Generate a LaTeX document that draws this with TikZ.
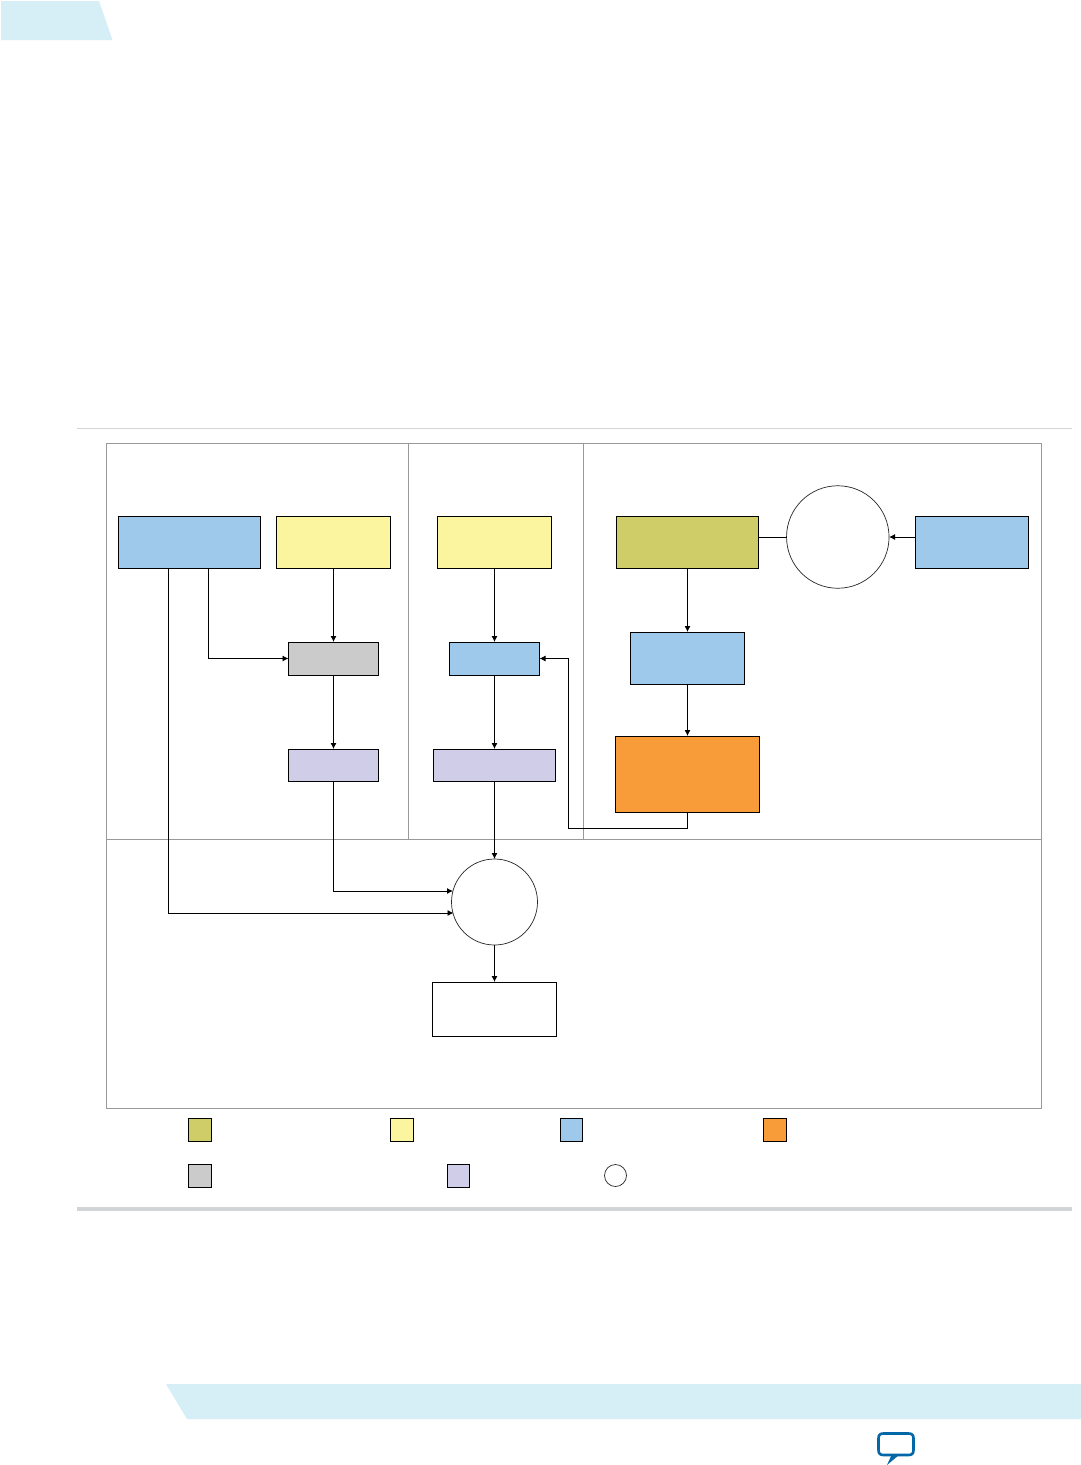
\documentclass[tikz,border=0pt]{standalone}
\usetikzlibrary{arrows.meta}
\definecolor{tabblue}{HTML}{D6EEF6}
\definecolor{olivebox}{HTML}{CFCD67}
\definecolor{yellowbox}{HTML}{FBF5A0}
\definecolor{bluebox}{HTML}{9FC9EB}
\definecolor{orangebox}{HTML}{F89B39}
\definecolor{graybox}{HTML}{CBCBCB}
\definecolor{lavbox}{HTML}{CFCDE8}
\definecolor{framegray}{HTML}{999999}
\definecolor{rulegray}{HTML}{D3D4D5}
\definecolor{bubble}{HTML}{0467A8}
\tikzset{
  x=1pt,y=-1pt,
  pbox/.style={draw=black,line width=0.9pt,inner sep=0pt,outer sep=0pt,rectangle},
  pcirc/.style={draw=black!85,line width=0.7pt,inner sep=0pt,outer sep=0pt,circle},
  conn/.style={draw=black,line width=0.9pt},
  arr/.style={conn,-{Latex[length=6pt,width=6pt]}},
  frameline/.style={draw=framegray,line width=1pt},
  sz/.style n args={2}{minimum width=#1pt,minimum height=#2pt},
}
\begin{document}
\begin{tikzpicture}
\useasboundingbox (0,0) rectangle (1081,1465);
\fill[white] (0,0) rectangle (1081,1465);
% page furniture
\fill[tabblue] (1,1) -- (99,1) -- (112.5,40) -- (1,40) -- cycle;
\fill[tabblue] (166,1384) -- (1081,1384) -- (1081,1419) -- (187,1419) -- cycle;
\draw[rulegray,line width=1pt] (77,428.5) -- (1072,428.5);
\draw[rulegray,line width=4pt] (77,1209) -- (1072,1209);
% frame
\draw[frameline] (106.5,443.5) rectangle (1041.5,1108);
\draw[frameline] (408.5,443.5) -- (408.5,839.5);
\draw[frameline] (583.5,443.5) -- (583.5,839.5);
\draw[frameline] (106.5,839.5) -- (1041.5,839.5);
% boxes
\node[pbox,fill=bluebox,sz={142}{52}] (a) at (189.5,542.5) {};
\node[pbox,fill=yellowbox,sz={114}{52}] (b) at (333.5,542.5) {};
\node[pbox,fill=yellowbox,sz={114}{52}] (c) at (494.5,542.5) {};
\node[pbox,fill=olivebox,sz={142}{52}] (d) at (687.5,542.5) {};
\node[pcirc,fill=white,minimum size=102.5pt] (e) at (837.8,537) {};
\node[pbox,fill=bluebox,sz={113}{52}] (f) at (971.5,542.5) {};
\node[pbox,fill=graybox,sz={90}{33}] (g) at (333.5,658.5) {};
\node[pbox,fill=bluebox,sz={90}{33}] (h) at (494.5,658.5) {};
\node[pbox,fill=bluebox,sz={114}{52}] (i) at (687.5,658) {};
\node[pbox,fill=lavbox,sz={90}{32}] (j) at (333.5,765) {};
\node[pbox,fill=lavbox,sz={122}{32}] (k) at (494.5,765) {};
\node[pbox,fill=orangebox,sz={144}{76}] (l) at (687.5,774) {};
\node[pcirc,fill=white,minimum size=86pt] (m) at (494.5,902) {};
\node[pbox,fill=white,sz={124}{54}] (n) at (494.5,1009) {};
% connector helpers
\coordinate (a1) at (208.5,568.5);
\coordinate (a2) at (168.5,568.5);
\path (m.center) ++(-41.5,-11) coordinate (mj);
\path (m.center) ++(-41,11) coordinate (ma);
% connectors
\draw[arr] (a1) |- (g.west);
\draw[arr] (a2) |- (ma);
\draw[arr] (b.south) -- (g.north);
\draw[arr] (g.south) -- (j.north);
\draw[arr] (j.south) |- (mj);
\draw[arr] (c.south) -- (h.north);
\draw[arr] (h.south) -- (k.north);
\draw[arr] (k.south) -- (m.north);
\draw[arr] (m.south) -- (n.north);
\draw[arr] (d.south) -- (i.north);
\draw[arr] (i.south) -- (l.north);
\draw[conn] (d.east |- e.west) -- (e.west);
\draw[arr] (f.west |- e.east) -- (e.east);
\coordinate (lr) at (568.5,828.5);
\draw[arr] (l.south) |- (lr) |- (h.east);
% legend
\node[pbox,fill=olivebox,sz={23.5}{23}] (L1) at (200,1129.5) {};
\node[pbox,fill=yellowbox,sz={23}{23}] (L2) at (401.5,1129.5) {};
\node[pbox,fill=bluebox,sz={22}{23}] (L3) at (571.5,1129.5) {};
\node[pbox,fill=orangebox,sz={23}{23}] (L4) at (774.5,1129.5) {};
\node[pbox,fill=graybox,sz={23.5}{23}] (L5) at (200,1175.5) {};
\node[pbox,fill=lavbox,sz={22}{23}] (L6) at (458.5,1175.5) {};
\node[pcirc,fill=white,minimum size=22pt] (L7) at (615.5,1175.5) {};
% feedback icon
\fill[bubble] (892,1454) -- (899,1455) -- (887,1465) -- cycle;
\draw[bubble,line width=2.6pt,line join=round,fill=white]
  (883.5,1433.5) -- (908.5,1433.5) .. controls (912,1433.5) and (913.5,1435) .. (913.5,1438.5)
  -- (913.5,1450) .. controls (913.5,1453.5) and (912,1455) .. (908.5,1455)
  -- (883.5,1455)
  .. controls (880,1455) and (878.5,1453.5) .. (878.5,1450) -- (878.5,1438.5)
  .. controls (878.5,1435) and (880,1433.5) .. (883.5,1433.5) -- cycle;
\end{tikzpicture}
\end{document}
